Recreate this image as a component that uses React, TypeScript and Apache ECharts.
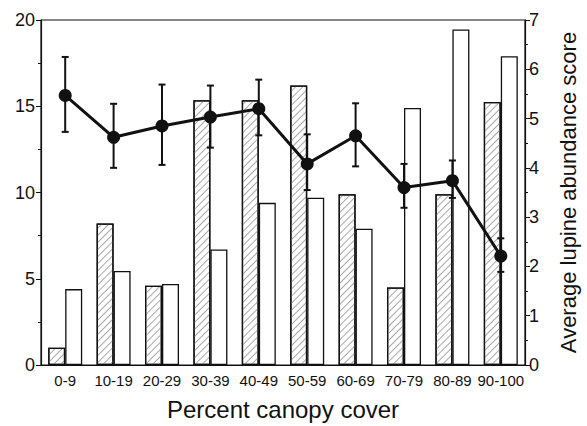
import React, { useEffect, useRef } from "react";
import * as echarts from "echarts";

const categories = ["0-9", "10-19", "20-29", "30-39", "40-49", "50-59", "60-69", "70-79", "80-89", "90-100"];
const hatchedBars = [1.0, 8.2, 4.6, 15.35, 15.35, 16.2, 9.9, 4.5, 9.9, 15.25];
const openBars = [4.4, 5.45, 4.7, 6.7, 9.4, 9.7, 7.9, 14.9, 19.45, 17.9];
const abundance = [5.47, 4.62, 4.85, 5.03, 5.2, 4.08, 4.65, 3.6, 3.74, 2.21];
const errHigh = [6.25, 5.3, 5.69, 5.67, 5.79, 4.68, 5.31, 4.08, 4.15, 2.57];
const errLow = [4.73, 4.0, 4.06, 4.41, 4.66, 3.55, 4.03, 3.19, 3.39, 1.89];

const FONT = "'Liberation Sans', Arial, Helvetica, sans-serif";

export default function App() {
  const ref = useRef<HTMLDivElement>(null);
  useEffect(() => {
    document.body.style.margin = "0";
    const chart = echarts.init(ref.current!, null, { renderer: "svg" });
    const errData = categories.map((_, i) => [i, errLow[i], errHigh[i]]);
    chart.setOption({
      animation: false,
      backgroundColor: "#fff",
      textStyle: { fontFamily: FONT, color: "#111" },
      grid: { left: 41, right: 44, top: 20, bottom: 54, show: true, borderColor: "#111", borderWidth: 1.2, backgroundColor: "transparent" },
      xAxis: {
        type: "category",
        data: categories,
        boundaryGap: true,
        name: "Percent canopy cover",
        nameLocation: "middle",
        nameGap: 32,
        nameTextStyle: { fontSize: 24, color: "#111", fontFamily: FONT },
        axisLine: { lineStyle: { color: "#111", width: 1.2 } },
        axisTick: { alignWithLabel: true, length: 5, lineStyle: { color: "#111" } },
        axisLabel: { fontSize: 15, color: "#111", margin: 8, interval: 0, fontFamily: FONT },
        splitLine: { show: false },
      },
      yAxis: [
        {
          type: "value",
          min: 0,
          max: 20,
          interval: 5,
          axisLine: { show: true, lineStyle: { color: "#111", width: 1.2 } },
          axisTick: { show: true, length: 5, lineStyle: { color: "#111" } },
          minorTick: { show: true, splitNumber: 2, length: 3, lineStyle: { color: "#111" } },
          axisLabel: { fontSize: 18, color: "#111", margin: 6, fontFamily: FONT },
          splitLine: { show: false },
        },
        {
          type: "value",
          min: 0,
          max: 7,
          interval: 1,
          position: "right",
          name: "Average lupine abundance score",
          nameLocation: "middle",
          nameGap: 32,
          nameRotate: 90,
          nameTextStyle: { fontSize: 22, color: "#111", fontFamily: FONT },
          axisLine: { show: true, lineStyle: { color: "#111", width: 1.2 } },
          axisTick: { show: true, length: 5, lineStyle: { color: "#111" } },
          minorTick: { show: true, splitNumber: 2, length: 3, lineStyle: { color: "#111" } },
          axisLabel: { fontSize: 18, color: "#111", margin: 4, fontFamily: FONT },
          splitLine: { show: false },
        },
      ],
      series: [
        {
          type: "bar",
          name: "hatched",
          data: hatchedBars,
          yAxisIndex: 0,
          barWidth: 17,
          barGap: "0%",
          itemStyle: {
            color: "#fff",
            borderColor: "#111",
            borderWidth: 1.3,
            decal: {
              symbol: "rect",
              symbolSize: 1,
              dashArrayX: [1, 0],
              dashArrayY: [1, 3.5],
              rotation: -Math.PI / 4,
              color: "#a8a8a8",
              backgroundColor: "#fff",
            },
          },
          z: 2,
        },
        {
          type: "bar",
          name: "open",
          data: openBars,
          yAxisIndex: 0,
          barWidth: 17,
          barGap: "0%",
          itemStyle: { color: "#fff", borderColor: "#111", borderWidth: 1.3 },
          z: 2,
        },
        {
          type: "custom",
          name: "err",
          yAxisIndex: 1,
          data: errData,
          z: 4,
          renderItem: (params: any, api: any) => {
            const x = api.value(0);
            const lo = api.coord([x, api.value(1)]);
            const hi = api.coord([x, api.value(2)]);
            const w = 3.5;
            const style = { stroke: "#111", lineWidth: 2 };
            return {
              type: "group",
              children: [
                { type: "line", shape: { x1: lo[0], y1: lo[1], x2: hi[0], y2: hi[1] }, style },
                { type: "line", shape: { x1: hi[0] - w, y1: hi[1], x2: hi[0] + w, y2: hi[1] }, style },
                { type: "line", shape: { x1: lo[0] - w, y1: lo[1], x2: lo[0] + w, y2: lo[1] }, style },
              ],
            };
          },
        },
        {
          type: "line",
          name: "abundance",
          data: abundance,
          yAxisIndex: 1,
          symbol: "circle",
          symbolSize: 13,
          lineStyle: { color: "#111", width: 3 },
          itemStyle: { color: "#111" },
          z: 5,
        },
      ],
    });
    return () => chart.dispose();
  }, []);
  return <div ref={ref} style={{ width: 587, height: 426 }} />;
}
